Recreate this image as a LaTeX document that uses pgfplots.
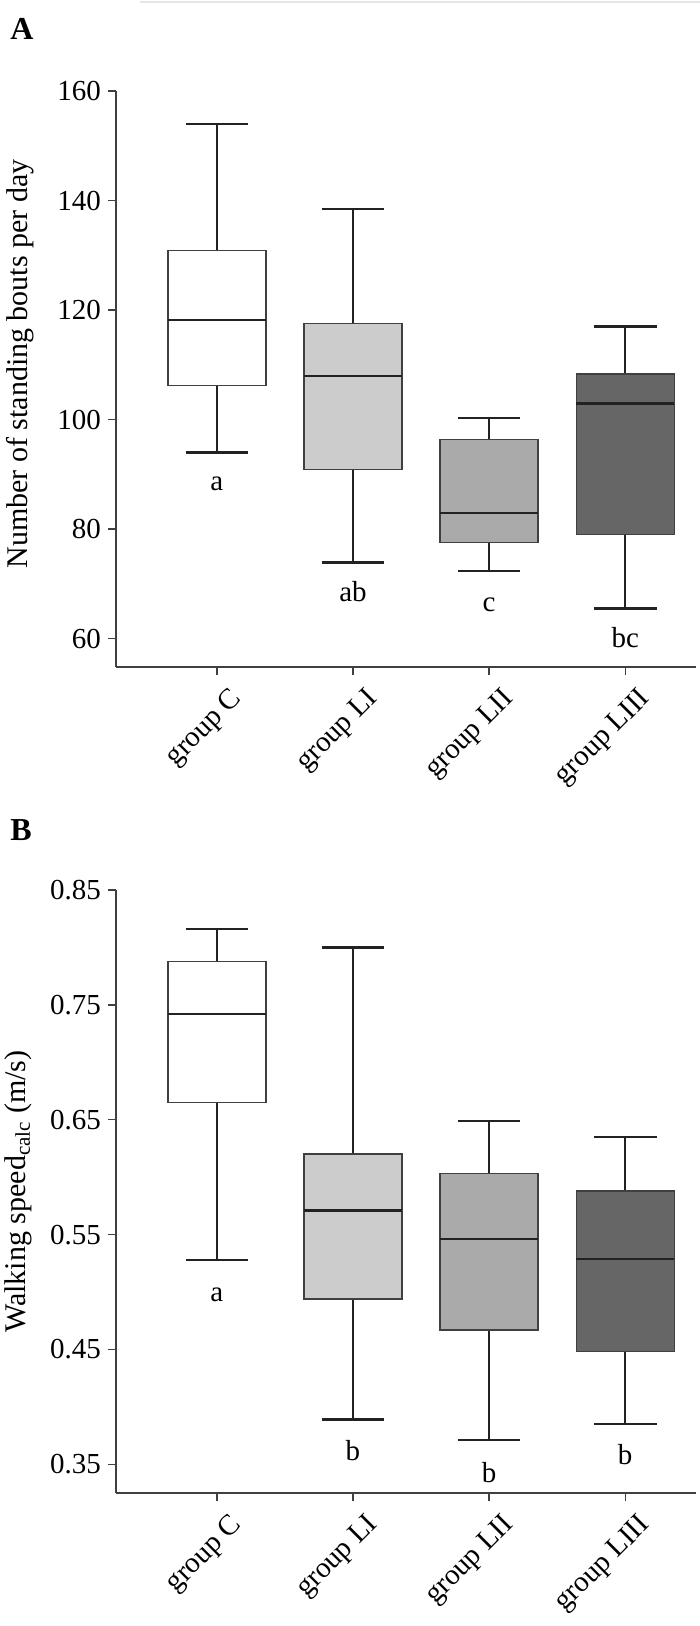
\documentclass[border=0pt]{standalone}
\usepackage{pgfplots}
\pgfplotsset{compat=1.18}
\usepgfplotslibrary{statistics}
\usepackage{fontspec}
\setmainfont{Liberation Serif}
\definecolor{cC}{HTML}{FFFFFF}
\definecolor{cLI}{HTML}{CCCCCC}
\definecolor{cLII}{HTML}{AAAAAA}
\definecolor{cLIII}{HTML}{666666}
\definecolor{ink}{HTML}{222222}
\newcommand{\fs}{\fontsize{14.5}{16}\selectfont}
\newcommand{\fl}{\fontsize{15}{17}\selectfont}
\pgfplotsset{
  panel/.style={
    scale only axis, anchor=south west, width=290pt,
    xmin=-0.741, xmax=3.52,
    axis x line*=bottom, axis y line*=left,
    axis line style={-, line width=0.7pt, black!75},
    xtick={0,1,2,3}, xticklabels={group C, group LI, group LII, group LIII},
    tick align=outside, major tick length=4pt,
    tick style={line width=0.7pt, black!75},
    /pgf/number format/assume math mode=true,
    xticklabel style={rotate=45, anchor=north east, font=\fs, inner sep=2pt, xshift=2.5pt, yshift=-6pt},
    yticklabel style={font=\fs},
    boxplot/draw direction=y,
    boxplot/every whisker/.style={line width=1.2pt, draw=ink},
    boxplot/every median/.style={line width=1.2pt, draw=ink},
    boxplot/every box/.style={line width=0.7pt, draw=black!75},
  },
  bx/.style={draw=black!75, fill=#1},
  lbl/.style={draw=none, mark=none, nodes near coords, point meta=explicit symbolic,
    every node near coord/.append style={anchor=base, font=\fs, inner sep=0pt, text=black}},
}
\begin{document}
\begin{tikzpicture}
\useasboundingbox (0pt,0pt) rectangle (350pt,-813pt);
\draw[black!10, line width=1pt] (70pt,-0.8pt) -- (350pt,-0.8pt);
\node[anchor=base west, font=\fontsize{16}{16}\selectfont\bfseries, inner sep=0] at (5pt,-20pt) {A};
\node[anchor=base west, font=\fontsize{16}{16}\selectfont\bfseries, inner sep=0] at (5pt,-420pt) {B};

\begin{axis}[panel, at={(58pt,-333.5pt)}, height=288pt,
  ymin=54.8, ymax=160, ytick={60,80,100,120,140,160},
  ylabel={Number of standing bouts per day},
  every axis y label/.style={at={(axis description cs:-0.166,0.526)}, rotate=90, anchor=center, font=\fl},
]
\addplot[bx=cC, boxplot prepared={lower whisker=94.0, lower quartile=106.2, median=118.2, upper quartile=130.9, upper whisker=154.0, draw position=0, box extend=0.72, whisker extend=0.46}] coordinates {};
\addplot[bx=cLI, boxplot prepared={lower whisker=73.9, lower quartile=90.9, median=107.9, upper quartile=117.5, upper whisker=138.4, draw position=1, box extend=0.72, whisker extend=0.46}] coordinates {};
\addplot[bx=cLII, boxplot prepared={lower whisker=72.3, lower quartile=77.5, median=82.9, upper quartile=96.3, upper whisker=100.3, draw position=2, box extend=0.72, whisker extend=0.46}] coordinates {};
\addplot[bx=cLIII, boxplot prepared={lower whisker=65.5, lower quartile=79.0, median=102.9, upper quartile=108.3, upper whisker=117.0, draw position=3, box extend=0.72, whisker extend=0.46}] coordinates {};
\addplot[lbl] coordinates {(0,87.1) [a] (1,66.8) [ab] (2,65.0) [c] (3,58.4) [bc]};
\end{axis}

\begin{axis}[panel, at={(58pt,-746.5pt)}, height=301.5pt,
  ymin=0.325, ymax=0.85, ytick={0.35,0.45,0.55,0.65,0.75,0.85},
  yticklabel style={/pgf/number format/.cd, fixed, fixed zerofill, precision=2},
  ylabel={Walking speed\textsubscript{calc} (m/s)},
  every axis y label/.style={at={(axis description cs:-0.169,0.5)}, rotate=90, anchor=center, font=\fl},
]
\addplot[bx=cC, boxplot prepared={lower whisker=0.528, lower quartile=0.665, median=0.742, upper quartile=0.788, upper whisker=0.816, draw position=0, box extend=0.72, whisker extend=0.46}] coordinates {};
\addplot[bx=cLI, boxplot prepared={lower whisker=0.389, lower quartile=0.494, median=0.571, upper quartile=0.620, upper whisker=0.800, draw position=1, box extend=0.72, whisker extend=0.46}] coordinates {};
\addplot[bx=cLII, boxplot prepared={lower whisker=0.371, lower quartile=0.467, median=0.546, upper quartile=0.603, upper whisker=0.649, draw position=2, box extend=0.72, whisker extend=0.46}] coordinates {};
\addplot[bx=cLIII, boxplot prepared={lower whisker=0.385, lower quartile=0.448, median=0.529, upper quartile=0.588, upper whisker=0.635, draw position=3, box extend=0.72, whisker extend=0.46}] coordinates {};
\addplot[lbl] coordinates {(0,0.492) [a] (1,0.353) [b] (2,0.3345) [b] (3,0.3496) [b]};
\end{axis}
\end{tikzpicture}
\end{document}
